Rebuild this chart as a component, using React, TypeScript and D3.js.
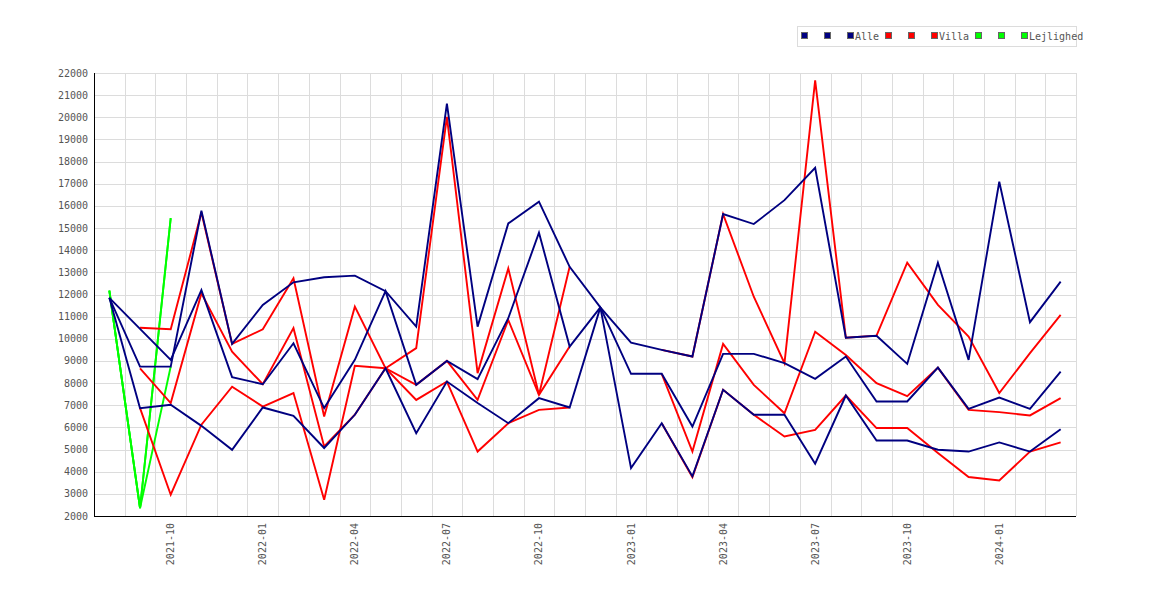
import { useEffect, useRef } from "react"
import * as d3 from "d3"

// months on the x axis (one band each)
const months = [
  "2021-08", "2021-09", "2021-10", "2021-11", "2021-12",
  "2022-01", "2022-02", "2022-03", "2022-04", "2022-05", "2022-06",
  "2022-07", "2022-08", "2022-09", "2022-10", "2022-11", "2022-12",
  "2023-01", "2023-02", "2023-03", "2023-04", "2023-05", "2023-06",
  "2023-07", "2023-08", "2023-09", "2023-10", "2023-11", "2023-12",
  "2024-01", "2024-02", "2024-03",
]

const tickLabels = [
  "2021-10", "2022-01", "2022-04", "2022-07", "2022-10",
  "2023-01", "2023-04", "2023-07", "2023-10", "2024-01",
]

// Alle (navy)
const alleA = [
  11850, 8745, 8745, 15780, 9770, 11530, 12550, 12780, 12850, 12150, 10550,
  20620, 10550, 15210, 16190, 13250, 11420, 9830, 9500, 9200, 15630, 15180,
  16260, 17720, 10050, 10140, 8870, 13440, 9050, 17090, 10750, 12580,
]
const alleB = [
  11850, 10450, 9050, 12200, 8270, 7950, 9800, 6870, 9050, 12150, 7920,
  9000, 8180, 10930, 14790, 9650, 11420, 8420, 8420, 6040, 9320, 9320,
  8900, 8190, 9200, 7170, 7170, 8700, 6840, 7350, 6840, 8520,
]
const alleC = [
  11850, 6870, 7020, 6070, 4990, 6900, 6520, 5070, 6570, 8670, 5740,
  8070, 7100, 6190, 7320, 6900, 11420, 4160, 6190, 3790, 7700, 6570,
  6570, 4360, 7440, 5410, 5410, 4990, 4910, 5320, 4910, 5920,
]

// Villa (red)
const villaA = [
  null, 10500, 10430, 15700, 9770, 10430, 12730, 6490, 11450, 8670, 7240,
  8070, 4910, 6190, 6790, 6900, null, null, 9500, 9200, 15630, 11900,
  8900, 21670, 10050, 10140, 13440, 11530, 10100, 7550, 9350, 11080,
]
const villaB = [
  null, 8670, 7100, 12050, 9420, 7950, 10480, 5140, 6570, 8670, 7920,
  9000, 7240, 10850, 7470, 9650, null, null, 8420, 4910, 9770, 7920,
  6640, 10320, 9270, 8000, 7410, 8700, 6790, 6690, 6540, 7320,
]
const villaC = [
  null, 6870, 2960, 6120, 7840, 6940, 7550, 2730, 8780, 8670, 9580,
  20020, 8450, 13180, 7470, 13250, null, null, 6190, 3750, 7700, 6570,
  5590, 5890, 7440, 5970, 5970, 4840, 3760, 3600, 4910, 5320,
]

// Lejlighed (green), only the first three months
const lejA = [12170, 2360, 15450]
const lejB = [12170, 2360, 8750]
const lejC = [12170, 2360, 15450]

const alleNames = ["", "", "Alle"]
const villaNames = ["", "", "Villa"]
const lejNames = ["", "", "Lejlighed"]

const NAVY = "#000080"
const RED = "#ff0000"
const GREEN = "#00ff00"
const FONT = "'DejaVu Sans Mono', monospace"

export default function App() {
  const svgRef = useRef<SVGSVGElement>(null)

  useEffect(() => {
    if (!svgRef.current) return
    const width = 1170
    const height = 600
    const margin = { top: 73, right: 94, bottom: 84, left: 94 }

    const svg = d3.select(svgRef.current)
    svg.selectAll("*").remove()
    svg.attr("width", width).attr("height", height)

    const x = d3
      .scaleBand()
      .domain(months)
      .range([margin.left, width - margin.right])
    const cx = (m: string) => (x(m) || 0) + x.bandwidth() / 2

    const y = d3
      .scaleLinear()
      .domain([2000, 22000])
      .range([height - margin.bottom, margin.top])

    const plotBottom = height - margin.bottom
    const plotRight = width - margin.right

    // grid
    const grid = svg.append("g").attr("shape-rendering", "crispEdges")
    grid
      .selectAll("line.h")
      .data(y.ticks(20))
      .enter()
      .append("line")
      .attr("x1", margin.left)
      .attr("x2", plotRight)
      .attr("y1", (d) => Math.round(y(d)) + 0.5)
      .attr("y2", (d) => Math.round(y(d)) + 0.5)
      .attr("stroke", "#dcdcdc")
    grid
      .selectAll("line.v")
      .data(months.slice(1).concat(["end"]))
      .enter()
      .append("line")
      .attr("x1", (d) => Math.round(d === "end" ? plotRight : x(d) || 0) + 0.5)
      .attr("x2", (d) => Math.round(d === "end" ? plotRight : x(d) || 0) + 0.5)
      .attr("y1", margin.top)
      .attr("y2", plotBottom)
      .attr("stroke", "#dcdcdc")

    // axes lines
    svg
      .append("line")
      .attr("x1", margin.left + 0.5)
      .attr("x2", margin.left + 0.5)
      .attr("y1", margin.top)
      .attr("y2", plotBottom + 0.5)
      .attr("stroke", "#000")
      .attr("shape-rendering", "crispEdges")
    svg
      .append("line")
      .attr("x1", margin.left)
      .attr("x2", plotRight)
      .attr("y1", plotBottom + 0.5)
      .attr("y2", plotBottom + 0.5)
      .attr("stroke", "#000")
      .attr("shape-rendering", "crispEdges")

    // y labels
    svg
      .append("g")
      .selectAll("text")
      .data(y.ticks(20))
      .enter()
      .append("text")
      .attr("x", margin.left - 6)
      .attr("y", (d) => y(d))
      .attr("dy", "0.35em")
      .attr("text-anchor", "end")
      .attr("font-family", FONT)
      .attr("font-size", 10)
      .attr("fill", "#555")
      .text((d) => String(d))

    // x labels, rotated
    svg
      .append("g")
      .selectAll("text")
      .data(tickLabels)
      .enter()
      .append("text")
      .attr("transform", (d) => `translate(${cx(d) + 3.5},${plotBottom + 7}) rotate(-90)`)
      .attr("text-anchor", "end")
      .attr("font-family", FONT)
      .attr("font-size", 10)
      .attr("fill", "#555")
      .text((d) => d)

    // lines: green first, then red, navy on top
    const series: { values: (number | null)[]; color: string }[] = [
      { values: lejA, color: GREEN },
      { values: lejB, color: GREEN },
      { values: lejC, color: GREEN },
      { values: villaA, color: RED },
      { values: villaB, color: RED },
      { values: villaC, color: RED },
      { values: alleA, color: NAVY },
      { values: alleB, color: NAVY },
      { values: alleC, color: NAVY },
    ]

    const line = d3
      .line<number | null>()
      .defined((d) => d != null)
      .x((_, i) => cx(months[i]))
      .y((d) => y(d as number))

    svg
      .append("g")
      .selectAll("path")
      .data(series)
      .enter()
      .append("path")
      .attr("d", (s) => line(s.values))
      .attr("fill", "none")
      .attr("stroke", (s) => s.color)
      .attr("stroke-width", 1.9)
      .attr("stroke-linejoin", "miter")

    // legend
    const legend = svg.append("g")
    legend
      .append("rect")
      .attr("x", 797.5)
      .attr("y", 26.5)
      .attr("width", 279)
      .attr("height", 20)
      .attr("fill", "#fff")
      .attr("stroke", "#dcdcdc")
      .attr("shape-rendering", "crispEdges")

    const items = [
      ...alleNames.map((n) => ({ name: n, color: NAVY })),
      ...villaNames.map((n) => ({ name: n, color: RED })),
      ...lejNames.map((n) => ({ name: n, color: GREEN })),
    ]
    let lx = 801
    items.forEach((it) => {
      legend
        .append("rect")
        .attr("x", lx + 0.5)
        .attr("y", 32.5)
        .attr("width", 6)
        .attr("height", 6)
        .attr("fill", it.color)
        .attr("stroke", "#666")
        .attr("shape-rendering", "crispEdges")
      legend
        .append("text")
        .attr("x", lx + 8)
        .attr("y", 39.5)
        .attr("font-family", FONT)
        .attr("font-size", 10)
        .attr("fill", "#555")
        .text(it.name)
      lx += 6 + 2 + Math.max(it.name.length * 6, 9) + 6
    })
  }, [])

  return (
    <div>
      <style>{`body{margin:0;background:#fff}`}</style>
      <svg ref={svgRef} style={{ display: "block" }} />
    </div>
  )
}
